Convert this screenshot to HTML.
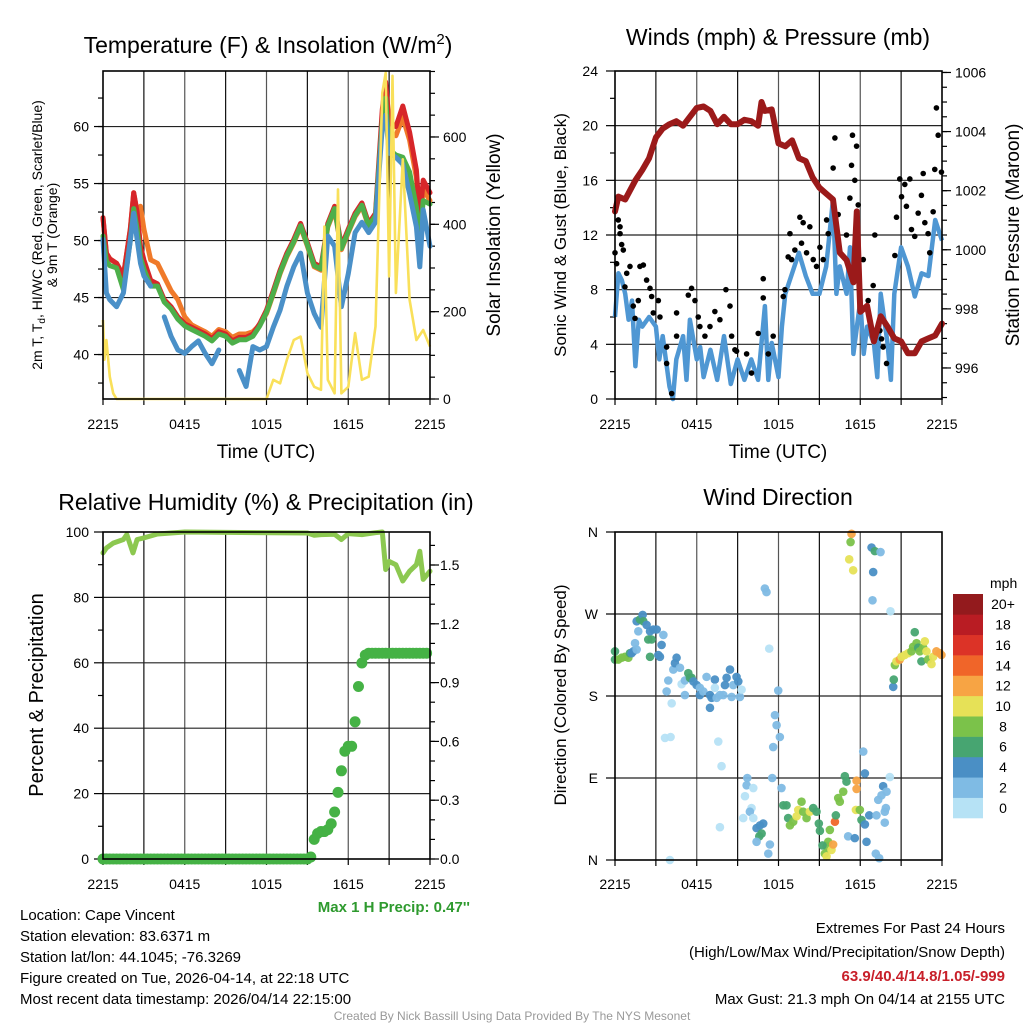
<!DOCTYPE html>
<html><head><meta charset="utf-8"><style>
html,body{margin:0;padding:0;background:#fff;}
svg{display:block;font-family:"Liberation Sans",sans-serif;}
</style></head><body>
<svg id="s" width="1024" height="1024" viewBox="0 0 1024 1024" xmlns="http://www.w3.org/2000/svg">
<text x="268" y="53" font-size="23" text-anchor="middle">Temperature (F) &amp; Insolation (W/m<tspan dy="-9" font-size="15">2</tspan><tspan dy="9">)</tspan></text>
<text x="778" y="45" font-size="23" text-anchor="middle">Winds (mph) &amp; Pressure (mb)</text>
<text x="266" y="510" font-size="23" text-anchor="middle">Relative Humidity (%) &amp; Precipitation (in)</text>
<text x="778" y="505" font-size="23" text-anchor="middle">Wind Direction</text>
<text x="266" y="458" font-size="19" text-anchor="middle">Time (UTC)</text>
<text x="778" y="458" font-size="19" text-anchor="middle">Time (UTC)</text>
<text transform="translate(42,235) rotate(-90)" font-size="14" text-anchor="middle">2m T, T<tspan font-size="10" dy="3">d</tspan><tspan dy="-3">, HI/WC (Red, Green, Scarlet/Blue)</tspan></text>
<text transform="translate(57,235) rotate(-90)" font-size="14" text-anchor="middle">&amp; 9m T (Orange)</text>
<text transform="translate(500,235) rotate(-90)" font-size="19" text-anchor="middle">Solar Insolation (Yellow)</text>
<text transform="translate(566,235) rotate(-90)" font-size="17" text-anchor="middle">Sonic Wind &amp; Gust (Blue, Black)</text>
<text transform="translate(1019,235) rotate(-90)" font-size="19" text-anchor="middle">Station Pressure (Maroon)</text>
<text transform="translate(43,695) rotate(-90)" font-size="20" text-anchor="middle">Percent &amp; Precipitation</text>
<text transform="translate(566,695) rotate(-90)" font-size="17" text-anchor="middle">Direction (Colored By Speed)</text>
<text x="470" y="912" font-size="15" font-weight="bold" fill="#2e9a2e" text-anchor="end">Max 1 H Precip: 0.47''</text>
<g font-size="15">
<text x="20" y="920">Location: Cape Vincent</text>
<text x="20" y="941">Station elevation: 83.6371 m</text>
<text x="20" y="962">Station lat/lon: 44.1045; -76.3269</text>
<text x="20" y="983">Figure created on Tue, 2026-04-14, at 22:18 UTC</text>
<text x="20" y="1004">Most recent data timestamp: 2026/04/14 22:15:00</text>
</g>
<g font-size="15" text-anchor="end">
<text x="1005" y="933">Extremes For Past 24 Hours</text>
<text x="1005" y="957">(High/Low/Max Wind/Precipitation/Snow Depth)</text>
<text x="1005" y="981" fill="#c8202a" font-weight="bold">63.9/40.4/14.8/1.05/-999</text>
<text x="1005" y="1004">Max Gust: 21.3 mph On 04/14 at 2155 UTC</text>
</g>
<text x="512" y="1020" font-size="12" fill="#999" text-anchor="middle">Created By Nick Bassill Using Data Provided By The NYS Mesonet</text>
</svg>
<script>
// ---------- data ----------
const tempT=[0,0.25,0.5,1,1.5,2,2.25,2.5,2.75,3,3.5,4,4.5,5,5.5,6,6.5,7,7.5,8,8.5,9,9.5,10,10.5,11,11.5,12,12.5,13,13.5,14,14.5,15,15.5,16,16.5,17,17.5,18,18.5,19,19.5,20,20.5,20.75,21,21.5,22,22.5,23,23.25,23.5,24];
const temp2m=[52,48.9,48.4,48,46.9,51,54.2,52.5,49.5,48.3,46.5,46.2,44.8,44.2,43.3,42.7,42.4,42.1,41.8,41.4,42,41.8,41.2,41.5,41.5,41.8,42.7,43.9,45.6,47.4,48.9,50.1,51.5,49.8,48,47.7,51.5,53,49.5,51,52.4,53.3,51.5,52.4,61.5,63.9,60.3,60,61.8,59.5,56.2,51.8,55.3,54.2];
const tempHI=[50.4,48.2,47.8,47.6,45.7,50,52.8,51,48.5,47.5,46,46,44.6,44,43.1,42.5,42.2,41.9,41.6,41.2,41.8,41.6,41,41.3,41.3,41.6,42.5,43.7,45.4,47.2,48.7,49.9,51.3,49.6,47.8,47.5,51.3,52.8,49.3,50.8,52.2,53.1,51.3,52.2,60.5,62.5,58,57.5,57.3,56,52.9,50,53.5,53.2];
const temp9m=[52,48.9,48.4,48,46.9,51,54.2,52.5,53,51,48.3,48,46.8,45.6,44.8,43.3,42.6,42.3,42,41.6,42.2,42,41.5,41.8,41.8,42,42.6,43.6,45.3,47.1,48.6,49.8,51.2,49.5,47.7,47.4,51.2,52.7,49.2,50.7,52.1,53,51.2,52.1,61,63,59.5,59.2,60.8,58.8,55.5,51.5,54.5,53.5];
const dewpt=[50.1,45.4,44.8,44.2,45.4,50,52.4,50.1,48,46.9,46,null,43.3,41.6,40.4,40.1,40.7,41.2,40.1,39.2,40.4,null,null,38.6,37.2,40.7,40.4,40.7,42.4,43.9,46,47.7,48.9,45.4,43.6,42.4,50.4,49.5,44.2,47.1,50.7,51.6,50.7,51.6,60,61,57.7,57.3,56.7,54.1,51.2,47.7,52.7,49.5];
const solT=[0,0.1,0.25,0.5,0.75,1,12,12.5,13,13.5,14,14.5,15,15.5,16,16.25,16.5,17,17.25,17.5,18,18.5,19,19.5,20,20.5,20.75,21,21.25,21.5,22,22.5,23,23.5,24];
const solar=[181,90,135,51,13,0,0,44,36,90,135,143,59,28,21,395,44,13,480,13,28,151,44,51,166,701,747,281,740,243,549,227,135,158,120];
const presT=[0,0.25,0.75,1.5,2,2.5,3,3.5,4,4.5,5,5.5,6,6.5,7,7.5,8,8.5,9,9.5,10,10.5,10.75,11,11.5,12,12.5,13,13.5,14,14.5,15,15.5,16,16.5,17,17.5,17.75,18,18.5,19,19.5,20,20.5,21,21.5,22,22.5,23,23.5,24];
const pressure=[1001.3,1001.8,1001.7,1002.35,1002.7,1003.1,1003.8,1004.1,1004.25,1004.35,1004.2,1004.5,1004.8,1004.85,1004.7,1004.25,1004.5,1004.25,1004.25,1004.4,1004.35,1004.2,1005.0,1004.7,1004.75,1003.6,1003.5,1003.7,1003.1,1003.0,1002.45,1002.1,1001.9,1001.7,999.9,999.65,998.9,1001.3,997.9,998.1,996.9,997.75,997.4,997.0,996.9,996.5,996.5,996.9,997.0,997.1,997.5];
const windT=[0,0.25,0.5,0.75,1,1.25,1.5,1.75,2,2.5,3,3.25,3.5,4,4.25,4.5,5,5.25,5.5,6,6.25,6.5,7,7.5,8,8.5,9,9.5,10,10.5,11,11.25,11.5,12,12.25,12.5,13,13.5,14,14.5,15,15.5,16,16.25,16.5,17,17.25,17.5,18,18.25,18.5,19,19.25,19.5,20,20.25,20.5,21,21.5,22,22.5,23,23.5,24];
const windSpd=[6.0,9.2,8.7,7.7,5.8,7.2,2.4,5.8,5.3,6.0,5.3,2.9,4.6,0.9,0,2.9,4.6,1.4,5.8,2.9,3.8,1.6,3.6,1.4,4.6,1.1,2.9,1.4,2.9,1.4,6.8,1.4,4.1,1.6,5.3,7.7,9.2,10.7,9.0,7.7,7.7,9.7,14.6,7.7,9.7,7.7,11.1,3.3,7.2,3.3,5.3,4.1,1.6,7.7,4.1,1.4,7.7,11.1,9.7,7.5,9.2,9.0,13.1,11.6];
const gustT=[0,.24,.37,.37,.49,.61,.12,.86,1.1,.73,1.34,1.47,1.71,1.83,2.08,2.32,2.57,2.69,2.81,3.18,3.3,3.79,3.79,4.16,4.52,4.52,5.38,5.62,5.87,6.11,6.23,6.6,6.97,7.33,7.7,8.14,8.44,8.56,8.8,8.92,9.66,10.02,10.51,10.88,10.88,11.25,11.61,12.35,12.47,12.84,12.71,12.96,13.2,13.57,13.69,13.81,14.3,14.06,14.55,14.79,15.04,15.28,15.53,15.65,16.01,16.14,16.38,16.99,17.24,17.36,17.43,17.6,17.73,17.85,18.22,18.58,18.95,19.07,19.44,19.56,19.68,19.93,20.54,20.66,20.9,21.03,21.27,21.39,21.64,21.76,22.0,22.25,22.49,22.62,22.74,22.98,23.1,23.35,23.47,23.59,23.72,23.96];
const gustV=[10.7,13.1,12.6,12.1,11.3,10.9,9.9,9.2,9.7,8.2,6.8,5.9,7.2,9.7,9.8,8.7,8.1,7.5,6.3,7.2,6.0,3.8,2.6,0.4,4.6,6.3,7.6,8.1,7.2,6.0,5.3,4.6,5.3,6.4,5.8,8.0,6.8,4.6,3.6,3.5,3.3,1.9,4.8,8.8,7.4,3.3,4.6,7.5,8.0,12.1,10.4,10.2,10.9,13.3,11.4,12.9,12.6,10.7,10.2,9.7,11.1,10.2,13.1,12.1,16.9,19.1,13.5,12.0,14.7,17.1,19.3,16.0,18.5,14.2,10.2,7.2,8.3,12.0,5.0,4.4,3.8,2.6,10.5,13.3,16.1,14.8,15.7,14.1,16.1,12.4,11.9,13.6,14.9,16.5,12.9,12.1,10.7,13.7,16.8,21.3,19.3,16.6];
const rhT=[0,0.25,0.75,1.5,1.75,2.2,2.5,3,4,5,6,15,15.5,16,17,17.5,18,19,20,20.5,20.75,21,21.5,22,22.5,23,23.25,23.5,24];
const rh=[93.6,95.1,96.6,97.7,99.2,93.6,97.7,98.2,99.4,99.7,100,99.7,99,99.2,99.3,97.7,99.5,99.2,99.8,100,88.5,91,90,85,88,90,94.1,85.5,88];
const precipStep=0.25;
const precip=[0,0,0,0,0,0,0,0,0,0,0,0,0,0,0,0,0,0,0,0,0,0,0,0,0,0,0,0,0,0,0,0,0,0,0,0,0,0,0,0,0,0,0,0,0,0,0,0,0,0,0,0,0,0,0,0,0,0,0,0,0,
.01,.1,.13,.14,.14,.15,.18,.24,.34,.45,.55,.575,.575,.70,.88,1.0,1.04,1.05,1.05,1.05,1.05,1.05,1.05,1.05,1.05,1.05,1.05,1.05,1.05,1.05,1.05,1.05,1.05,1.05,1.05];
// wind direction observations: time (h), direction (deg), speed (mph)
const dirT=[
0,0,.24,.49,.73,.98,1.1,1.22,1.34,1.47,
1.59,1.71,1.59,1.83,2.03,2.08,2.32,2.57,2.44,2.69,
2.57,2.81,3.06,3.18,3.3,3.42,3.55,3.91,3.79,4.16,
3.67,4.08,4.28,4.4,4.52,4.77,4.89,5.13,5.13,5.38,
5.5,5.62,5.75,5.99,6.23,6.23,6.48,6.72,6.97,6.97,
7.09,7.33,7.46,7.33,7.7,7.95,8.07,8.19,8.44,8.56,
8.68,8.92,9.05,9.17,9.29,7.58,7.82,7.7,4.03,
11.0,11.12,11.32,11.98,11.74,11.86,12.1,11.61,9.71,9.66,
10.15,9.54,10.02,9.9,9.41,10.15,10.39,10.64,10.88,10.76,
10.59,10.39,11.37,11.25,11.54,12.22,12.35,12.59,12.71,12.84,
13.08,13.33,13.45,13.69,13.81,14.06,14.3,14.55,14.79,14.96,
15.04,15.77,15.65,15.53,15.23,15.4,15.53,15.89,16.01,16.14,
16.21,16.38,16.5,16.75,16.87,16.99,17.11,17.6,17.73,17.73,
17.68,17.97,18.09,18.34,18.22,18.34,18.46,18.66,19.19,19.32,
19.56,19.68,19.8,19.93,19.88,19.8,20.17,19.14,19.39,
17.36,17.29,17.19,17.48,18.83,19.07,19.49,18.95,18.9,20.22,
20.42,20.46,20.54,20.66,20.9,21.03,21.27,21.52,21.76,21.88,
22.0,22.13,22.25,22.37,22.49,22.62,22.74,22.86,22.98,23.23,
23.35,23.59,23.84,23.96];
const dirDeg=[
229,220,220,222,223,222,227,227,229,238,
231,251,262,264,269,262,258,251,242,242,
223,253,253,225,223,236,247,197,185,172,
134,135,209,216,222,211,193,197,181,205,
200,200,196,192,189,181,185,201,181,167,
178,198,178,189,181,181,192,200,209,179,
192,201,196,179,187,130,103,36,0,
298,294,232,186,159,148,135,124,90,82,
79,70,57,53,46,46,35,38,40,29,
26,20,17,7,90,79,60,60,46,38,
42,48,55,64,53,46,53,57,53,40,
32,33,20,15,16,7,4,11,17,42,
49,68,64,75,92,86,26,24,87,78,
55,55,44,39,119,95,20,49,49,66,
71,81,53,75,57,41,91,7,2,
358,349,330,318,343,339,338,316,285,273,
190,198,214,218,220,223,225,227,229,234,
250,238,233,229,218,233,240,229,220,215,
223,229,227,225];
const dirSpd=[
6,6,8,8,8,8,6,4,4,2,
2,2,4,6,4,6,4,4,6,6,
6,4,4,4,4,4,2,2,2,0,
0,0,2,4,4,2,0,2,2,6,
6,6,4,4,2,4,2,2,4,4,
4,4,2,0,2,2,4,4,4,2,
2,4,4,2,0,0,0,0,0,
2,2,0,2,2,2,2,2,2,2,
0,0,0,2,0,0,4,4,4,6,
6,2,2,2,2,2,6,6,6,8,
8,10,10,8,8,8,10,6,6,6,
6,8,8,8,6,8,10,10,12,14,
6,8,8,8,6,6,2,4,12,12,
10,8,6,4,2,4,4,4,2,2,
2,4,2,2,2,2,0,2,2,
12,8,10,10,4,6,2,4,2,0,
4,6,8,10,12,10,10,10,8,8,
6,8,6,8,6,8,10,10,8,10,
10,12,12,12];
const barLabels=["0","2","4","6","8","10","12","14","16","18","20+"];
const barColors=["#b6e2f5","#7fbbe4","#4a8fc5","#47a571","#7bc24a","#e6e157","#f7a444","#f06529","#dc3327","#b91c23","#931a1d"];
const timeLabels=["2215","0415","1015","1615","2215"];
// ---------- helpers ----------
const NS="http://www.w3.org/2000/svg", svg=document.getElementById('s');
function mk(tag,attrs,parent){const e=document.createElementNS(NS,tag);for(const k in attrs)e.setAttribute(k,attrs[k]);(parent||svg).appendChild(e);return e;}
function txt(s,x,y,size,anchor,parent){const e=mk('text',{x:x,y:y,'font-size':size,'text-anchor':anchor},parent);e.textContent=s;return e;}
function xs(x0){return t=>x0+t*327/24;}
function linePath(ts,vs,fx,fy){let d="",pen=false;for(let i=0;i<ts.length;i++){if(vs[i]===null||vs[i]===undefined){pen=false;continue;}d+=(pen?"L":"M")+fx(ts[i]).toFixed(1)+","+fy(vs[i]).toFixed(1);pen=true;}return d;}
function frame(name,x0,y0,x1,y1,hgrid,fx,ty){
  const g=mk('g',{});
  
  
  for(let h=3;h<24;h+=3){const gl=mk('line',{x1:fx(h),x2:fx(h),y1:y0,y2:y1,stroke:(h%6==0?'#555':'#111'),'stroke-width':1.2},g);}
  hgrid.forEach(y=>{const gl=mk('line',{x1:x0,x2:x1,y1:y,y2:y,stroke:'#222','stroke-width':1.2},g);});
  for(let h=0;h<=24;h+=3){mk('line',{x1:fx(h),x2:fx(h),y1:y1,y2:y1+6,stroke:'#000','stroke-width':1.2},g);}
  timeLabels.forEach((s,i)=>{const l=txt(s,fx(i*6),ty,14,'middle',g);});
  return g;
}
function border(x0,y0,x1,y1){const r=mk('rect',{x:x0,y:y0,width:x1-x0,height:y1-y0,fill:'none',stroke:'#000','stroke-width':1.6});}
function yTicks(vals,fy,x,dir,len,labels,lx,anchor,g){vals.forEach((v,i)=>{mk('line',{x1:x,x2:x+dir*len,y1:fy(v),y2:fy(v),stroke:'#000','stroke-width':1.2},g);if(labels){const l=txt(labels[i],lx,fy(v)+5,14,anchor,g);}});}
function range(a,b,s){const r=[];for(let v=a;v<=b+1e-9;v+=s)r.push(+v.toFixed(3));return r;}

// ---------- Panel 1: temperature ----------
(function(){
  const x0=103,x1=430,y0=71,y1=399,fx=xs(x0);
  const fy=v=>y1-(v-36.1)*11.4, fs=w=>y1-w*0.4367;
  const g=frame('temp',x0,y0,x1,y1,[40,45,50,55,60].map(fy),fx,429);
  yTicks(range(37.5,62.5,2.5),fy,x0,-1,5,null,0,'',g);
  yTicks([40,45,50,55,60],fy,x0,-1,9,["40","45","50","55","60"],89,'end',g);
  yTicks(range(0,750,50),fs,x1,1,5,null,0,'',g);
  yTicks([0,200,400,600],fs,x1,1,9,["0","200","400","600"],443,'start',g);
  const series=[[temp9m,'#f07a2a','temp-9m-line'],[temp2m,'#d7262a','temp-2m-line'],[tempHI,'#4daf4a','heat-index-line'],[dewpt,'#4a90c8','dewpoint-line']];
  series.forEach(s=>{const p=mk('path',{d:linePath(tempT,s[0],fx,fy),fill:'none',stroke:s[1],'stroke-width':5,'stroke-linejoin':'round','stroke-linecap':'round'});});
  const sp=mk('path',{d:linePath(solT,solar,fx,fs),fill:'none',stroke:'#f9e05a','stroke-width':2.6,'stroke-linejoin':'round'});
  
  border(x0,y0,x1,y1);
})();
// ---------- Panel 2: winds ----------
(function(){
  const x0=615,x1=942,y0=71,y1=399,fx=xs(x0);
  const fy=v=>y1-v*13.667, fp=p=>y1-(p-994.95)*29.55;
  const g=frame('wind',x0,y0,x1,y1,[4,8,12,16,20].map(fy),fx,429);
  yTicks(range(2,22,4),fy,x0,-1,5,null,0,'',g);
  yTicks(range(0,24,4),fy,x0,-1,9,["0","4","8","12","16","20","24"],598,'end',g);
  yTicks(range(995,1006,0.5),fp,x1,1,5,null,0,'',g);
  yTicks([996,998,1000,1002,1004,1006],fp,x1,1,9,["996","998","1000","1002","1004","1006"],955,'start',g);
  const w=mk('path',{d:linePath(windT,windSpd,fx,fy),fill:'none',stroke:'#4f97d3','stroke-width':4.5,'stroke-linejoin':'round'});
  
  gustT.forEach((t,i)=>{const c=mk('circle',{cx:fx(t),cy:fy(gustV[i]),r:2.8,fill:'#000'});});
  const p=mk('path',{d:linePath(presT,pressure,fx,fp),fill:'none',stroke:'#9b1a1a','stroke-width':6,'stroke-linejoin':'round','stroke-linecap':'round'});
  
  border(x0,y0,x1,y1);
})();
// ---------- Panel 3: RH & precip ----------
(function(){
  const x0=103,x1=430,y0=532,y1=859,fx=xs(x0);
  const fy=v=>y1-v*3.27, fp=v=>y1-v*196;
  const g=frame('rh',x0,y0,x1,y1,[20,40,60,80].map(fy),fx,889);
  yTicks(range(10,90,20),fy,x0,-1,5,null,0,'',g);
  yTicks(range(0,100,20),fy,x0,-1,9,["0","20","40","60","80","100"],89,'end',g);
  yTicks(range(0,1.6,0.1),fp,x1,1,5,null,0,'',g);
  yTicks([0,0.3,0.6,0.9,1.2,1.5],fp,x1,1,9,["0.0","0.3","0.6","0.9","1.2","1.5"],440,'start',g);
  const r=mk('path',{d:linePath(rhT,rh,fx,fy),fill:'none',stroke:'#8cc850','stroke-width':5,'stroke-linejoin':'round','stroke-linecap':'round'});
  
  precip.forEach((v,i)=>{const c=mk('circle',{cx:fx(i*precipStep),cy:fp(v),r:5.5,fill:'#45b245'});});
  border(x0,y0,x1,y1);
})();
// ---------- Panel 4: wind direction ----------
(function(){
  const x0=615,x1=942,y0=532,y1=860,fx=xs(x0);
  const fy=d=>y1-d*328/360;
  const g=frame('dir',x0,y0,x1,y1,[90,180,270].map(fy),fx,889);
  yTicks([0,90,180,270,360],fy,x0,-1,9,["N","E","S","W","N"],598,'end',g);
  const n=Math.min(dirT.length,dirDeg.length,dirSpd.length);
  for(let i=0;i<n;i++){const c=mk('circle',{cx:fx(dirT[i]),cy:fy(dirDeg[i]),r:4.3,fill:barColors[Math.min(10,Math.round(dirSpd[i]/2))],opacity:0.95});}
  border(x0,y0,x1,y1);
  const cb=mk('g',{});
  
  const by0=594,bh=(818-594)/barColors.length;
  txt('mph',990,588,14,'start',cb);
  barColors.forEach((c,i)=>{const k=barColors.length-1-i;
    const rr=mk('rect',{x:953,y:by0+k*bh,width:30,height:bh+0.3,fill:c},cb);
    const l=txt(barLabels[i],1003,by0+k*bh+bh/2+5,14,'middle',cb);});
})();
</script>
</body></html>
